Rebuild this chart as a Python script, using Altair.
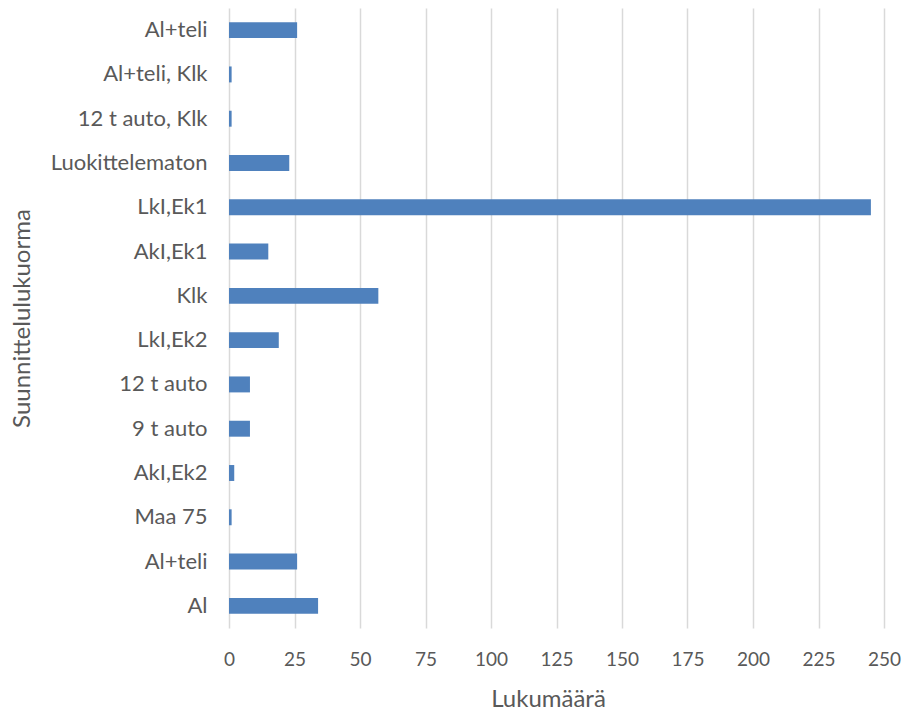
import json
import altair as alt
import pandas as pd

# Design load classes, top to bottom as listed on the axis
categories = [
    "Al+teli", "Al+teli, Klk", "12 t auto, Klk", "Luokittelematon",
    "LkI,Ek1", "AkI,Ek1", "Klk", "LkI,Ek2", "12 t auto", "9 t auto",
    "AkI,Ek2", "Maa 75", "Al+teli", "Al",
]
counts = [26, 1, 1, 23, 245, 15, 57, 19, 8, 8, 2, 1, 26, 34]
x_ticks = [0, 25, 50, 75, 100, 125, 150, 175, 200, 225, 250]

# "Al+teli" occurs twice, so rows are keyed by position and labelled via labelExpr
df = pd.DataFrame({"pos": list(range(len(categories))), "name": categories, "count": counts})
label_expr = json.dumps(categories) + "[datum.value]"

FONT = "Lato"
TEXT = "#595959"

chart = (
    alt.Chart(df)
    .mark_bar(color="#4f81bd")
    .encode(
        x=alt.X(
            "count:Q",
            scale=alt.Scale(domain=[0, 250], nice=False),
            axis=alt.Axis(
                title="Lukumäärä",
                values=x_ticks,
                grid=True,
                gridColor="#d9d9d9",
                gridWidth=1.5,
                domain=False,
                ticks=False,
                labelFlush=False,
                labelFont=FONT,
                labelFontSize=19,
                labelColor=TEXT,
                labelPadding=22,
                titleFont=FONT,
                titleFontSize=24,
                titleFontWeight="normal",
                titleColor=TEXT,
                titlePadding=18,
                titleX=319,
            ),
        ),
        y=alt.Y(
            "pos:O",
            sort=None,
            scale=alt.Scale(paddingInner=0.64, paddingOuter=0.32),
            axis=alt.Axis(
                title="Suunnittelulukuorma",
                labelExpr=label_expr,
                domain=False,
                ticks=False,
                grid=False,
                labelFont=FONT,
                labelFontSize=22,
                labelColor=TEXT,
                labelPadding=22,
                titleFont=FONT,
                titleFontSize=24,
                titleFontWeight="normal",
                titleColor=TEXT,
                titleX=-207,
                titleY=310,
                titleAlign="center",
                titleBaseline="middle",
            ),
        ),
    )
    .properties(
        width=655,
        height=620,
        autosize=alt.AutoSizeParams(type="none"),
        padding={"left": 229, "top": 8, "right": 20, "bottom": 86},
    )
    .configure_view(stroke=None)
)

chart.save("out.html", embed_options={"renderer": "svg", "actions": False})
